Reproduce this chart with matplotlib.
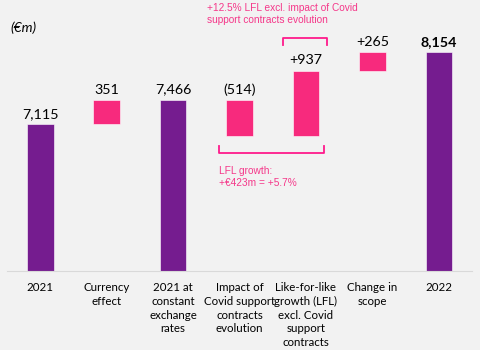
import matplotlib.pyplot as plt

categories = ["2021", "Currency\neffect", "2021 at\nconstant\nexchange\nrates",
              "Impact of\nCovid support\ncontracts\nevolution",
              "Like-for-like\ngrowth (LFL)\nexcl. Covid\nsupport\ncontracts",
              "Change in\nscope", "2022"]
values = [7115, 351, 7466, -514, 937, 265, 8154]
is_total = [True, False, True, False, False, False, True]
value_labels = ["7,115", "351", "7,466", "(514)", "+937", "+265", "8,154"]

purple = "#751c8f"
pink = "#f72a7d"
anno = "#f5388a"
bg = "#f2f2f2"

plt.rcParams['font.family'] = ['Lato', 'DejaVu Sans']

fig = plt.figure(figsize=(4.8, 3.5), dpi=100, facecolor=bg)
ax = fig.add_axes([7 / 480, 79 / 350, 465 / 480, 271 / 350])
ax.set_facecolor(bg)
ymin = 5000
ymax = 8911
ax.set_xlim(-0.5, 6.5)
ax.set_ylim(ymin, ymax)

running = 0
for i, v in enumerate(values):
    if is_total[i]:
        bottom, height = ymin, v - ymin
        running = v
        color = purple
    else:
        if v >= 0:
            bottom, height = running, v
        else:
            bottom, height = running + v, -v
        running += v
        color = pink
    ax.bar(i, height, bottom=bottom, width=0.4, color=color,
           edgecolor="white", linewidth=0.4)
    top = bottom + height
    ax.text(i, top + 65, value_labels[i], ha="center", va="bottom",
            fontsize=10.3, color="black",
            fontweight="bold" if i == 6 else "normal")

for s in ["top", "right", "left"]:
    ax.spines[s].set_visible(False)
ax.spines["bottom"].set_color("#d9d9d9")
ax.set_yticks([])
ax.set_xticks(range(len(categories)))
ax.set_xticklabels(categories, fontsize=8.3, linespacing=1.3, va="top")
ax.tick_params(axis="x", length=0, pad=8)

# units label
fig.text(10 / 480, 1 - 28 / 350, "(€m)", fontsize=10, style="italic",
         va="center", ha="left")

# annotations
fig.text(207 / 480, 1 - 14 / 350,
         "+12.5% LFL excl. impact of Covid\nsupport contracts evolution",
         fontsize=7.3, color=anno, family=["Liberation Sans", "DejaVu Sans"],
         va="center", ha="left", linespacing=1.25)
fig.text(219 / 480, 1 - 177 / 350, "LFL growth:\n+€423m = +5.7%",
         fontsize=7.3, color=anno, family=["Liberation Sans", "DejaVu Sans"],
         va="center", ha="left", linespacing=1.25)

def px(x, y):
    return x / 480, 1 - y / 350

bracket_color = "#ff1a8c"
for xs, ys in [([283, 283, 327, 327], [45, 38, 38, 45]),
               ([219, 219, 324, 324], [146, 153, 153, 146])]:
    pts = [px(x, y) for x, y in zip(xs, ys)]
    fig.add_artist(plt.Line2D([p[0] for p in pts], [p[1] for p in pts],
                              color=bracket_color, linewidth=1.3,
                              transform=fig.transFigure))

fig.savefig("out.png", dpi=100, facecolor=bg)
